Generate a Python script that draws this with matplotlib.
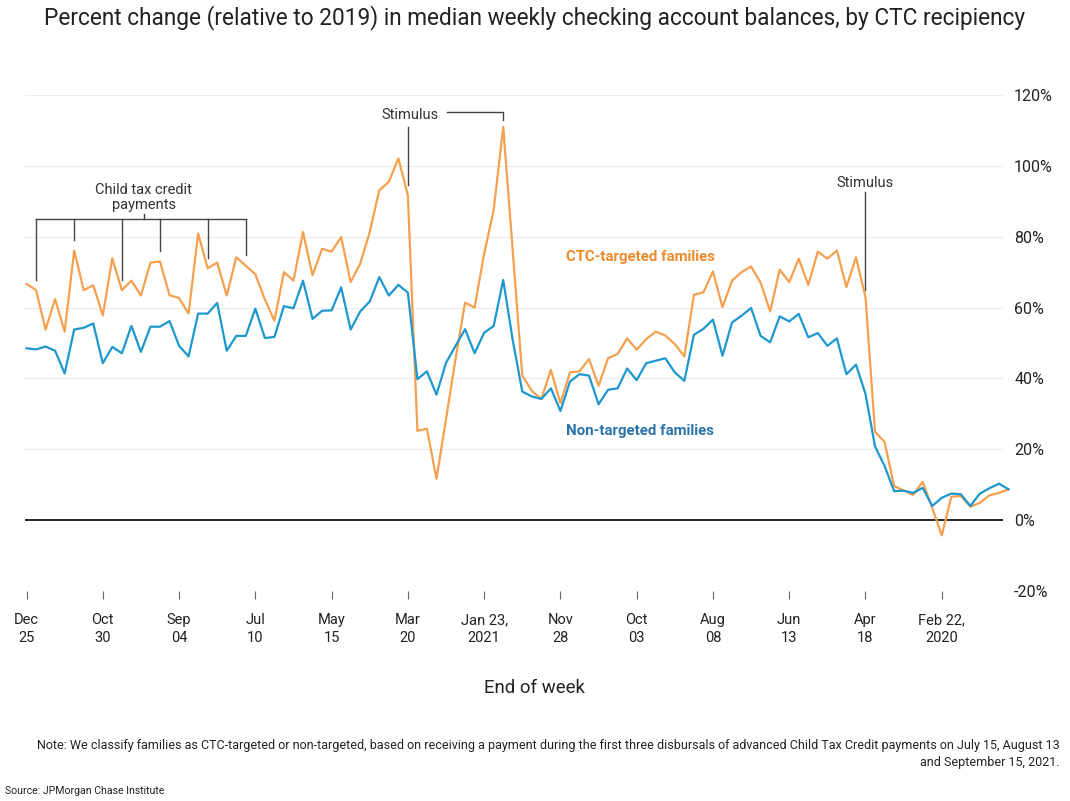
import numpy as np
import pandas as pd
import matplotlib
matplotlib.use("Agg")
import matplotlib.pyplot as plt
import matplotlib.dates as mdates

# weekly series, week ending Jan 4 2020 .. Dec 25 2021 (percent change vs 2019)
week_start = "2020-01-04"

ctc_targeted = [
    8.7, 7.7, 7.0, 4.9, 3.8, 6.8, 6.6, -4.3, 3.5, 10.8,
    7.1, 8.4, 9.6, 22.1, 24.9, 62.9, 74.2, 65.8, 76.1, 73.8,
    75.8, 66.4, 73.8, 67.2, 70.7, 58.9, 67.0, 71.6, 70.0, 67.6,
    60.1, 70.2, 64.3, 63.6, 46.2, 49.7, 52.1, 53.2, 51.1, 48.1,
    51.3, 46.9, 45.7, 37.9, 45.5, 42.0, 41.7, 33.0, 42.4, 34.2,
    36.5, 40.8, 76.0, 111.0, 87.5, 75.2, 60.0, 61.4, 45.5, 28.5,
    11.7, 25.8, 25.2, 91.7, 102.1, 95.5, 93.1, 81.3, 72.4, 67.2,
    79.9, 75.8, 76.6, 69.1, 81.3, 67.6, 70.0, 56.3, 62.3, 69.4,
    71.8, 74.2, 63.4, 72.7, 71.1, 80.9, 58.3, 62.7, 63.5, 73.0,
    72.7, 63.4, 67.6, 64.9, 73.9, 57.8, 66.3, 64.9, 76.1, 53.2,
    62.4, 53.8, 64.9, 66.7,
]

non_targeted = [
    8.7, 10.3, 9.0, 7.5, 4.0, 7.3, 7.5, 6.3, 4.0, 9.1,
    7.7, 8.3, 8.2, 15.3, 20.8, 35.6, 43.9, 41.2, 51.3, 49.2,
    52.8, 51.6, 58.2, 56.1, 57.5, 50.2, 52.0, 59.9, 57.7, 55.8,
    46.4, 56.6, 54.0, 52.3, 39.3, 41.7, 45.7, 45.0, 44.3, 39.5,
    42.8, 37.2, 36.8, 32.7, 40.8, 41.2, 39.1, 30.8, 37.2, 34.2,
    34.9, 36.3, 50.8, 67.8, 54.8, 52.9, 47.1, 53.9, 49.2, 44.4,
    35.4, 42.0, 39.8, 64.2, 66.4, 63.4, 68.6, 61.7, 58.9, 53.8,
    65.7, 59.2, 59.1, 56.8, 67.6, 59.8, 60.4, 51.7, 51.4, 59.7,
    52.0, 52.0, 47.8, 61.3, 58.3, 58.3, 46.2, 49.2, 56.2, 54.6,
    54.6, 47.5, 54.8, 47.1, 48.9, 44.3, 55.5, 54.3, 53.8, 41.4,
    47.8, 49.0, 48.2, 48.5,
]

tick_dates = ["2020-02-22", "2020-04-18", "2020-06-13", "2020-08-08", "2020-10-03",
              "2020-11-28", "2021-01-23", "2021-03-20", "2021-05-15", "2021-07-10",
              "2021-09-04", "2021-10-30", "2021-12-25"]
tick_labels = ["Feb 22,\n2020", "Apr\n18", "Jun\n13", "Aug\n08", "Oct\n03", "Nov\n28",
               "Jan 23,\n2021", "Mar\n20", "May\n15", "Jul\n10", "Sep\n04", "Oct\n30",
               "Dec\n25"]
y_ticks = [-20, 0, 20, 40, 60, 80, 100, 120]

ctc_payment_weeks = ["2021-07-17", "2021-08-14", "2021-09-18", "2021-10-16",
                     "2021-11-20", "2021-12-18"]
stimulus_weeks = ["2020-04-18", "2021-01-09", "2021-03-20"]

title = ("Percent change (relative to 2019) in median weekly checking account "
         "balances, by CTC recipiency")
note = ("Note: We classify families as CTC-targeted or non-targeted, based on receiving a "
        "payment during the first three disbursals of advanced Child Tax Credit payments on "
        "July 15, August 13\nand September 15, 2021.")
source = "Source: JPMorgan Chase Institute"

W, H = 1070, 801
ORANGE = "#F5A04E"
BLUE = "#1D98CE"
ORANGE_TXT = "#EE8A2E"
BLUE_TXT = "#2A74AC"
ANNOT = "#444444"


def fx(x):
    return x / W


def fy(y):
    return 1 - y / H


def main():
    plt.rcParams["font.family"] = ["Roboto", "DejaVu Sans"]

    weeks = pd.date_range(week_start, periods=len(ctc_targeted), freq="7D")
    x = mdates.date2num(weeks)
    step = 7.0
    x0 = x[0]

    def wk(date):
        return mdates.date2num(pd.Timestamp(date))

    def at_week(idx):
        return x0 + idx * step

    fig = plt.figure(figsize=(W / 100, H / 100), dpi=100)
    ax = fig.add_axes([fx(25), fy(591), fx(1003) - fx(25), fy(95) - fy(591)])

    # axis is reversed: most recent week on the left
    ax.set_xlim(at_week(103.16), at_week(0.577))
    ax.set_ylim(-20, 120)

    for v in y_ticks:
        if v == 0:
            ax.axhline(0, color="black", lw=1.2, zorder=2)
        else:
            ax.axhline(v, color="#ececec", lw=0.8, zorder=0)

    ax.plot(x, ctc_targeted, color=ORANGE, lw=1.6, zorder=3, clip_on=False)
    ax.plot(x, non_targeted, color=BLUE, lw=1.6, zorder=4, clip_on=False)

    for s in ax.spines.values():
        s.set_visible(False)

    ax.set_xticks([wk(d) for d in tick_dates])
    ax.set_xticklabels(tick_labels, linespacing=1.35)
    ax.tick_params(axis="x", length=6, width=0.8, color="#666666", pad=10,
                   labelsize=10.5, labelcolor="#222222")

    ax.yaxis.tick_right()
    ax.set_yticks(y_ticks)
    ax.set_yticklabels([f"{v}%" for v in y_ticks])
    ax.tick_params(axis="y", length=0, pad=8, labelsize=11.5, labelcolor="#222222")

    # series labels
    ax.text(at_week(38.65), 74.4, "CTC-targeted families", color=ORANGE_TXT,
            fontsize=10.8, fontweight="bold", ha="center", va="center")
    ax.text(at_week(38.65), 25.3, "Non-targeted families", color=BLUE_TXT,
            fontsize=10.8, fontweight="bold", ha="center", va="center")

    ctc = dict(zip(weeks, ctc_targeted))

    # stimulus, spring 2020
    s1 = wk(stimulus_weeks[0])
    ax.plot([s1, s1], [65.1, 92.5], color=ANNOT, lw=1, clip_on=False)
    ax.text(s1, 95.3, "Stimulus", ha="center", va="center", fontsize=10.5, color="#333333")

    # stimulus, Jan + Mar 2021
    s2, s3 = wk(stimulus_weeks[1]), wk(stimulus_weeks[2])
    ax.plot([s3, s3], [94.7, 111.1], color=ANNOT, lw=1, clip_on=False)
    ax.plot([at_week(58.9), s2, s2], [115.2, 115.2, 113.0], color=ANNOT, lw=1,
            clip_on=False)
    ax.text(at_week(62.8), 114.4, "Stimulus", ha="center", va="center", fontsize=10.5,
            color="#333333")

    # child tax credit payments bracket
    pay = [wk(d) for d in ctc_payment_weeks]
    ax.plot([min(pay), max(pay)], [85.1, 85.1], color=ANNOT, lw=1)
    for d, p in zip(ctc_payment_weeks, pay):
        ax.plot([p, p], [85.1, ctc[pd.Timestamp(d)] + 3], color=ANNOT, lw=1)
    mid = at_week(90.7)
    ax.plot([mid, mid], [85.1, 86.4], color=ANNOT, lw=1)
    ax.text(mid, 86.9, "Child tax credit\npayments", ha="center", va="bottom",
            fontsize=10.5, color="#333333", linespacing=1.15)

    fig.text(fx(535), fy(18), title, ha="center", va="center", fontsize=16.3,
             color="#222222")
    fig.text(fx(534), fy(688), "End of week", ha="center", va="center", fontsize=13.4,
             color="#222222")
    fig.text(fx(1060), fy(754), note, ha="right", va="center", fontsize=9.0,
             color="#222222", multialignment="right", linespacing=1.45)
    fig.text(fx(5), fy(791), source, ha="left", va="center", fontsize=7.6,
             color="#222222")

    fig.savefig("out.png", dpi=100)
    plt.close(fig)


if __name__ == "__main__":
    main()
